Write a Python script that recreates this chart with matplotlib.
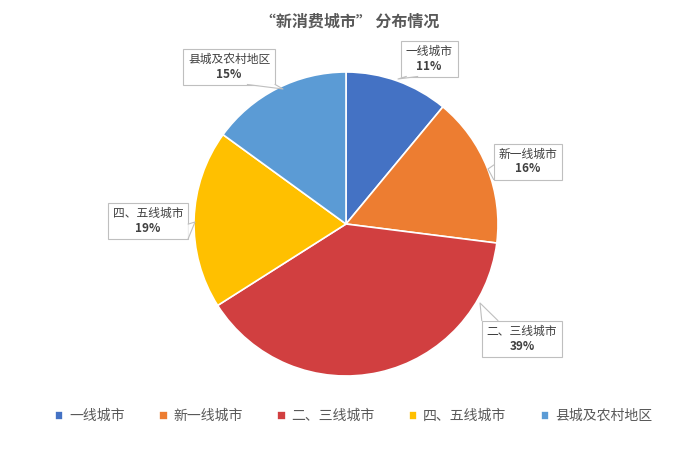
import matplotlib.pyplot as plt
from matplotlib.patches import Rectangle, Polygon
from matplotlib.transforms import Bbox

plt.rcParams['font.family'] = ['Noto Sans CJK SC', 'DejaVu Sans']

categories = ["一线城市", "新一线城市", "二、三线城市", "四、五线城市", "县城及农村地区"]
shares = [11, 16, 39, 19, 15]
colors = ["#4472C4", "#ED7D31", "#D13F40", "#FFC000", "#5B9BD5"]

# label box centres (pixel coords, y from top), callout tip on the pie,
# and which box edge the callout leaves from (fraction range along that edge)
label_pos = [(429, 58), (528, 161), (522, 338), (148, 220), (229, 66)]
anchor_pos = [(398, 79), (488, 169), (480, 303), (195, 222), (283, 89)]
callout_edge = [('bottom', 0.1, 0.3), ('left', 0.0, 0.4), ('top', 0.0, 0.2),
                ('right', 0.0, 0.4), ('bottom', 0.7, 1.0)]

W, H = 700, 453
fig = plt.figure(figsize=(7, 4.53), dpi=100)
ax = fig.add_axes([0, 0, 1, 1])
ax.set_xlim(0, W)
ax.set_ylim(0, H)
ax.set_aspect('equal')
ax.axis('off')

wedges, _ = ax.pie(shares, colors=colors, startangle=90, counterclock=False,
                   center=(346, H - 224), radius=152,
                   wedgeprops=dict(edgecolor='white', linewidth=1.2))
ax.set_xlim(0, W)
ax.set_ylim(0, H)

label_texts = []
for cat, val, (lx, ly) in zip(categories, shares, label_pos):
    t1 = ax.text(lx, H - ly + 7, cat, ha='center', va='center', fontsize=8.5,
                 color='#404040', zorder=6)
    t2 = ax.text(lx, H - ly - 8, f"{val}%", ha='center', va='center', fontsize=8.5,
                 fontweight='bold', color='#404040', zorder=6)
    label_texts.append((t1, t2))

fig.canvas.draw()
renderer = fig.canvas.get_renderer()
inv = ax.transData.inverted()
pad = 5
gray = '#BFBFBF'
for (t1, t2), (px, py), (side, f0, f1) in zip(label_texts, anchor_pos, callout_edge):
    bb = Bbox.union([t1.get_window_extent(renderer), t2.get_window_extent(renderer)])
    (x0, y0), (x1, y1) = inv.transform([(bb.x0, bb.y0), (bb.x1, bb.y1)])
    x0, x1, y0, y1 = x0 - pad, x1 + pad, y0 - pad + 1, y1 + pad - 1
    ax.add_patch(Rectangle((x0, y0), x1 - x0, y1 - y0, fc='white', ec=gray,
                           lw=0.8, zorder=4))
    ay = H - py
    if side in ('bottom', 'top'):
        ey = y0 if side == 'bottom' else y1
        a = (x0 + f0 * (x1 - x0), ey)
        b = (x0 + f1 * (x1 - x0), ey)
    else:
        ex = x0 if side == 'left' else x1
        a = (ex, y0 + f0 * (y1 - y0))
        b = (ex, y0 + f1 * (y1 - y0))
    ax.add_patch(Polygon([(px, ay), a, b], closed=True, fc='white', ec='none', zorder=4.5))
    ax.plot([a[0], px, b[0]], [a[1], ay, b[1]], color=gray, lw=0.8, zorder=4.6)

fig.text(0.5, 1 - 22 / H, "“新消费城市” 分布情况", ha='center', va='center',
         fontsize=11.5, fontweight='bold', color='#595959')

fig.legend(wedges, categories, loc='center', bbox_to_anchor=(0.505, 1 - 416 / H),
           ncol=5, frameon=False, fontsize=10, handlelength=0.6, handleheight=0.6,
           handletextpad=0.4, columnspacing=2.5, labelcolor='#595959')

fig.savefig("out.png", dpi=100)
